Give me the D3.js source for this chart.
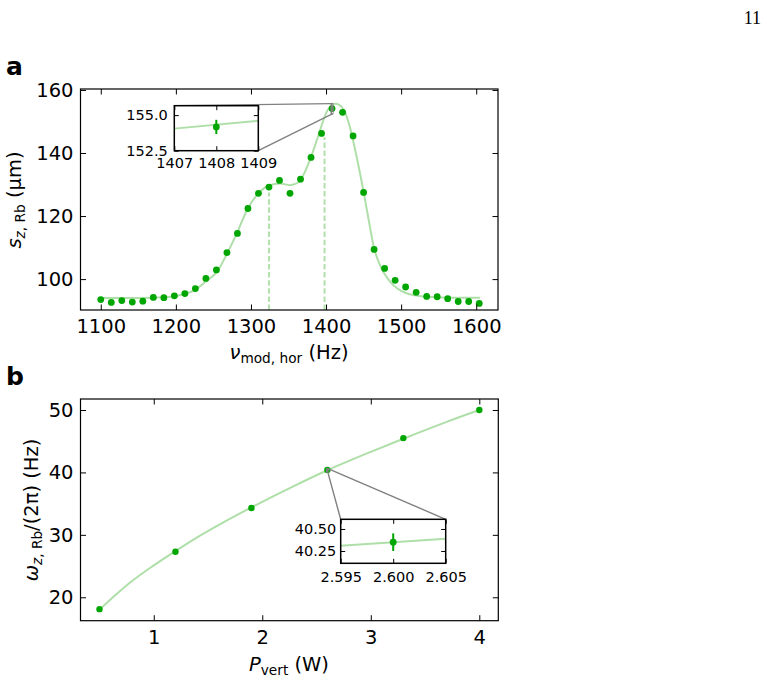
<!DOCTYPE html>
<html><head><meta charset="utf-8">
<script src="https://cdn.jsdelivr.net/npm/d3@7"></script>
<style>body{margin:0;background:#fff} svg{display:block} text{font-family:"DejaVu Sans",sans-serif;fill:#000}</style>
</head><body><svg id="c" width="767" height="680"></svg>
<script>
// ---------- Panel a data ----------
const freqHz = [1100,1114,1128,1142,1156,1170,1184,1198,1212,1226,1240,1254,1268,1282,1296,1310,1324,1338,1352,1366,1380,1394,1408,1422,1436,1450,1464,1478,1492,1506,1520,1534,1548,1562,1576,1590,1604];
const sizeUm = [93.5,92.6,93.2,92.7,93.0,94.2,94.1,94.7,95.4,97.0,100.2,102.9,108.4,114.5,122.4,127.2,129.2,131.3,127.2,131.7,138.6,146.2,154.1,152.9,145.4,127.5,109.4,103.4,99.6,97.5,95.8,94.5,94.4,93.8,92.9,92.9,92.3];
const fitFreqHz = [1100,1150,1190,1210,1225,1240,1255,1268,1281,1295,1312,1324,1339,1352,1364,1372,1381,1390,1399,1405,1412,1418,1424,1432,1441,1450,1457,1464,1470,1477,1485,1495,1507,1520,1540,1570,1605];
const fitSizeUm = [94.0,94.0,94.3,95.2,96.5,99.3,102.4,108.0,114.4,122.0,127.7,129.7,130.3,129.8,130.8,134.1,139.4,145.7,152.0,154.6,155.6,155.2,153.6,148.0,138.5,127.7,118.5,109.8,105.5,102.0,99.3,97.0,95.5,94.8,94.3,94.1,94.1];
const resonanceHz = [1324, 1398];
const resonanceTopUm = [127.5, 145.0];
const aXTicks = [1100,1200,1300,1400,1500,1600];
const aYTicks = [100,120,140,160];
// inset a
const insetAFreq = [1408];
const insetASize = [154.17];
const insetAErr = [0.5];
const insetAFitX = [1407,1409];
const insetAFitY = [154.05,154.6];
const insetAXTicks = [1407,1408,1409];
const insetAYTicks = [152.5,155.0];

// ---------- Panel b data ----------
const powerW = [0.5,1.2,1.9,2.6,3.3,4.0];
const omegaHz = [18.1,27.3,34.3,40.4,45.5,50.0];
const fitPowerW = [0.5,0.65,0.8,1.0,1.2,1.4,1.6,1.9,2.3,2.6,3.0,3.3,3.7,4.0];
const fitOmegaHz = [18.0,20.4,22.6,25.1,27.4,29.6,31.6,34.4,37.9,40.35,43.3,45.4,48.1,50.0];
const bXTicks = [1,2,3,4];
const bYTicks = [20,30,40,50];
// inset b
const insetBPower = [2.6];
const insetBOmega = [40.35];
const insetBErr = [0.1];
const insetBFitX = [2.595,2.605];
const insetBFitY = [40.31,40.39];
const insetBXTicks = [2.595,2.600,2.605];
const insetBYTicks = [40.25,40.50];

// ---------- styles ----------
const DOT = "#00a600", FIT = "#afdfa8", CONN = "#808080";
const TFS = 19.5, TITLE = 19.5, SUB = 13.7, IFS = 14.5;
const svg = d3.select("#c");
svg.append("rect").attr("width",767).attr("height",680).attr("fill","#fff");

function frameAxes(g, x, y, o) {
  const [x0,x1] = x.range(), [y0,y1] = [y.range()[1], y.range()[0]];
  const w = x1-x0, h = y1-y0;
  const fs = o.fs, tl = o.tl;
  const ax = (gen, tr) => g.append("g").attr("transform", tr).call(gen)
     .call(s => s.select(".domain").remove())
     .call(s => s.selectAll(".tick line").attr("stroke","#000").attr("stroke-width",o.tw||1))
     .call(s => s.selectAll("text").attr("font-size",fs).attr("font-family","DejaVu Sans"));
  ax(d3.axisBottom(x).tickValues(o.xt).tickFormat(o.xf).tickSize(-tl).tickPadding(o.px), `translate(0,${y1})`);
  ax(d3.axisTop(x).tickValues(o.xt).tickFormat("").tickSize(-tl), `translate(0,${y0})`);
  ax(d3.axisLeft(y).tickValues(o.yt).tickFormat(o.yf).tickSize(-tl).tickPadding(o.py), `translate(${x0},0)`);
  ax(d3.axisRight(y).tickValues(o.yt).tickFormat("").tickSize(-tl), `translate(${x1},0)`);
  g.append("rect").attr("x",x0).attr("y",y0).attr("width",w).attr("height",h)
    .attr("fill","none").attr("stroke","#000").attr("stroke-width",o.sw||1.2);
}

// ================= Panel a =================
const xa = d3.scaleLinear().domain([1073,1629]).range([80.5,498]);
const ya = d3.scaleLinear().domain([90.2,160.3]).range([310,89]);
const ga = svg.append("g");
ga.selectAll("line.res").data(resonanceHz).join("line")
  .attr("x1",d=>xa(d)).attr("x2",d=>xa(d))
  .attr("y1",ya(ya.domain()[0])).attr("y2",(d,i)=>ya(resonanceTopUm[i]))
  .attr("stroke",FIT).attr("stroke-width",1.9).attr("stroke-dasharray","5.5,2.6");
ga.append("path").datum(fitFreqHz.map((f,i)=>[f,fitSizeUm[i]]))
  .attr("d", d3.line().x(d=>xa(d[0])).y(d=>ya(d[1])).curve(d3.curveMonotoneX))
  .attr("fill","none").attr("stroke",FIT).attr("stroke-width",2);
ga.selectAll("circle").data(freqHz).join("circle")
  .attr("cx",d=>xa(d)).attr("cy",(d,i)=>ya(sizeUm[i])).attr("r",3.4).attr("fill",DOT);
const rA = {x0:xa(insetAXTicks[0]), x1:xa(insetAXTicks[2]), y0:ya(155.66), y1:ya(152.5)};
ga.append("rect").attr("x",rA.x0).attr("y",rA.y0).attr("width",rA.x1-rA.x0).attr("height",rA.y1-rA.y0)
  .attr("fill","none").attr("stroke",CONN).attr("stroke-width",1.4);
frameAxes(ga, xa, ya, {xt:aXTicks, yt:aYTicks, xf:d3.format("d"), yf:d3.format("d"), fs:TFS, tl:5.5, px:9, py:7});

const ixa = d3.scaleLinear().domain([1407,1409]).range([174.3,258.3]);
const iya = d3.scaleLinear().domain([152.5,155.66]).range([150.7,105.7]);
ga.append("line").attr("x1",ixa.range()[0]).attr("y1",iya.range()[1]).attr("x2",rA.x0).attr("y2",rA.y0)
  .attr("stroke",CONN).attr("stroke-width",1.4);
ga.append("line").attr("x1",ixa.range()[1]).attr("y1",iya.range()[0]).attr("x2",rA.x1).attr("y2",rA.y1)
  .attr("stroke",CONN).attr("stroke-width",1.4);
const gia = svg.append("g");
gia.append("rect").attr("x",174.3).attr("y",105.7).attr("width",84).attr("height",45).attr("fill","#fff");
gia.append("path").datum(insetAFitX.map((f,i)=>[f,insetAFitY[i]]))
  .attr("d", d3.line().x(d=>ixa(d[0])).y(d=>iya(d[1])))
  .attr("fill","none").attr("stroke",FIT).attr("stroke-width",2);
gia.selectAll("line.err").data(insetAFreq).join("line").attr("class","err")
  .attr("x1",d=>ixa(d)).attr("x2",d=>ixa(d))
  .attr("y1",(d,i)=>iya(insetASize[i]-insetAErr[i])).attr("y2",(d,i)=>iya(insetASize[i]+insetAErr[i]))
  .attr("stroke",DOT).attr("stroke-width",2);
gia.selectAll("circle").data(insetAFreq).join("circle")
  .attr("cx",d=>ixa(d)).attr("cy",(d,i)=>iya(insetASize[i])).attr("r",3.4).attr("fill",DOT);
frameAxes(gia, ixa, iya, {xt:insetAXTicks, yt:insetAYTicks, xf:d3.format("d"), yf:d3.format(".1f"), fs:IFS, tl:4.5, px:7, py:6.5, sw:1.5});

const ylabA = svg.append("text").attr("transform","translate(20.5,200) rotate(-90)").attr("text-anchor","middle").attr("font-size",TITLE);
ylabA.append("tspan").attr("font-style","italic").text("s");
ylabA.append("tspan").attr("font-size",SUB).attr("dy",4).attr("font-style","italic").text("z");
ylabA.append("tspan").attr("font-size",SUB).text(", Rb");
ylabA.append("tspan").attr("dy",-4).text(" (µm)");
const xlabA = svg.append("text").attr("x",289).attr("y",358.5).attr("text-anchor","middle").attr("font-size",TITLE);
xlabA.append("tspan").attr("font-style","italic").text("ν");
xlabA.append("tspan").attr("font-size",SUB).attr("dy",4).text("mod, hor");
xlabA.append("tspan").attr("dy",-4).text(" (Hz)");

// ================= Panel b =================
const xb = d3.scaleLinear().domain([0.325,4.175]).range([80.5,498.3]);
const yb = d3.scaleLinear().domain([16.25,51.76]).range([620.7,399]);
const gb = svg.append("g");
gb.append("path").datum(fitPowerW.map((p,i)=>[p,fitOmegaHz[i]]))
  .attr("d", d3.line().x(d=>xb(d[0])).y(d=>yb(d[1])).curve(d3.curveMonotoneX))
  .attr("fill","none").attr("stroke",FIT).attr("stroke-width",2);
gb.selectAll("circle").data(powerW).join("circle")
  .attr("cx",d=>xb(d)).attr("cy",(d,i)=>yb(omegaHz[i])).attr("r",3.2).attr("fill",DOT);
const rB = {x0:xb(insetBXTicks[0]), x1:xb(insetBXTicks[2]), y0:yb(40.61), y1:yb(40.11)};
gb.append("rect").attr("x",rB.x0).attr("y",rB.y0).attr("width",rB.x1-rB.x0).attr("height",rB.y1-rB.y0)
  .attr("fill","none").attr("stroke",CONN).attr("stroke-width",1.4);
frameAxes(gb, xb, yb, {xt:bXTicks, yt:bYTicks, xf:d3.format("d"), yf:d3.format("d"), fs:TFS, tl:5.5, px:9, py:7});

const ixb = d3.scaleLinear().domain([2.595,2.605]).range([340.7,445.7]);
const iyb = d3.scaleLinear().domain([40.11,40.61]).range([563.3,519.3]);
gb.append("line").attr("x1",ixb.range()[0]).attr("y1",iyb.range()[1]).attr("x2",rB.x0).attr("y2",rB.y0)
  .attr("stroke",CONN).attr("stroke-width",1.4);
gb.append("line").attr("x1",ixb.range()[1]).attr("y1",iyb.range()[1]).attr("x2",rB.x1).attr("y2",rB.y0)
  .attr("stroke",CONN).attr("stroke-width",1.4);
const gib = svg.append("g");
gib.append("rect").attr("x",340.7).attr("y",519.3).attr("width",105).attr("height",44).attr("fill","#fff");
gib.append("path").datum(insetBFitX.map((p,i)=>[p,insetBFitY[i]]))
  .attr("d", d3.line().x(d=>ixb(d[0])).y(d=>iyb(d[1])))
  .attr("fill","none").attr("stroke",FIT).attr("stroke-width",2);
gib.selectAll("line.err").data(insetBPower).join("line").attr("class","err")
  .attr("x1",d=>ixb(d)).attr("x2",d=>ixb(d))
  .attr("y1",(d,i)=>iyb(insetBOmega[i]-insetBErr[i])).attr("y2",(d,i)=>iyb(insetBOmega[i]+insetBErr[i]))
  .attr("stroke",DOT).attr("stroke-width",2);
gib.selectAll("circle").data(insetBPower).join("circle")
  .attr("cx",d=>ixb(d)).attr("cy",(d,i)=>iyb(insetBOmega[i])).attr("r",3.4).attr("fill",DOT);
frameAxes(gib, ixb, iyb, {xt:insetBXTicks, yt:insetBYTicks, xf:d3.format(".3f"), yf:d3.format(".2f"), fs:IFS, tl:4.5, px:8, py:4.5, sw:1.5});

const ylabB = svg.append("text").attr("transform","translate(38,510) rotate(-90)").attr("text-anchor","middle").attr("font-size",TITLE);
ylabB.append("tspan").attr("font-style","italic").text("ω");
ylabB.append("tspan").attr("font-size",SUB).attr("dy",4).attr("font-style","italic").text("z");
ylabB.append("tspan").attr("font-size",SUB).text(", Rb");
ylabB.append("tspan").attr("dy",-4).text("/(2π) (Hz)");
const xlabB = svg.append("text").attr("x",289).attr("y",670.5).attr("text-anchor","middle").attr("font-size",TITLE);
xlabB.append("tspan").attr("font-style","italic").text("P");
xlabB.append("tspan").attr("font-size",SUB).attr("dy",4).text("vert");
xlabB.append("tspan").attr("dy",-4).text(" (W)");

svg.append("text").attr("x",6).attr("y",75).attr("font-size",25).attr("font-weight","bold").text("a");
svg.append("text").attr("x",6).attr("y",385).attr("font-size",25).attr("font-weight","bold").text("b");
svg.append("text").attr("x",761).attr("y",24).attr("text-anchor","end").attr("font-size",18)
  .style("font-family","'Liberation Serif', serif").text("11");
</script></body></html>
